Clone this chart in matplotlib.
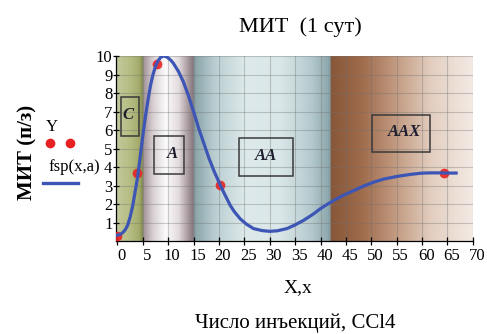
import numpy as np
import matplotlib
matplotlib.use("Agg")
import matplotlib.pyplot as plt
import matplotlib.transforms as mtransforms
from matplotlib.lines import Line2D

plt.rcParams['font.family'] = ['Liberation Serif', 'DejaVu Serif']

# measured points Y
pt_x = [0.0, 3.8, 7.7, 20.2, 64.3]
pt_y = [0.3, 3.7, 9.6, 3.05, 3.7]

# spline fsp(x,a)
fsp_x = [0, 0.5, 1, 1.5, 2, 2.5, 3, 3.5, 4, 4.5, 5, 5.5, 6, 6.5, 7, 7.5, 8,
         8.5, 9, 9.5, 10, 10.5, 11, 12, 13, 14, 15, 16, 17, 18, 19, 20.3, 21,
         22.2, 23, 24.2, 25.5, 26.8, 28.5, 30, 31.5, 33.4, 35, 36.7, 38.5, 40,
         41.5, 42.6, 44.5, 46.6, 48.5, 50.5, 52.5, 55.1, 57.5, 59.7, 61.5,
         63.7, 65, 66.7]
fsp_y = [0.33, 0.36, 0.45, 0.6, 0.85, 1.3, 1.9, 2.7, 3.5, 4.6, 5.7, 6.7, 7.6,
         8.4, 9.0, 9.45, 9.75, 9.93, 10.0, 9.98, 9.9, 9.78, 9.62, 9.18, 8.6,
         7.85, 7.0, 6.1, 5.3, 4.5, 3.8, 3.0, 2.6, 1.94, 1.6, 1.2, 0.9, 0.68,
         0.57, 0.53, 0.56, 0.68, 0.88, 1.13, 1.45, 1.76, 2.02, 2.2, 2.48, 2.74,
         2.98, 3.19, 3.36, 3.5, 3.6, 3.67, 3.69, 3.69, 3.68, 3.68]

# labelled boxes: name, x0, x1, y0, y1, text x, text y
boxes = [("C", 0.7, 4.2, 5.7, 7.8, 2.0, 6.8),
         ("A", 7.3, 13.2, 3.65, 5.7, 10.8, 4.7),
         ("AA", 24.0, 34.5, 3.5, 5.6, 29.3, 4.6),
         ("AAX", 50.1, 61.5, 4.8, 6.8, 56.6, 5.9)]

xticks = list(range(0, 75, 5))
yticks = list(range(1, 11))

# background bands (x positions and colour stops)
bands = [
    [(-0.3, "#c4c99c"), (2.5, "#b6bd82"), (4.3, "#a3aa6c"), (5.0, "#7f874a")],
    [(5.0, "#9f8f94"), (7.0, "#d8d0d2"), (9.5, "#fbfbfb"), (12.0, "#e4dcde"), (15.0, "#83737a")],
    [(15.0, "#86a1a6"), (19.0, "#b9cdd0"), (25.0, "#dde9eb"), (32.0, "#dae7e9"),
     (38.0, "#b6cbcf"), (41.5, "#8ea8ad"), (42.0, "#7a9499")],
    [(42.0, "#87573a"), (48.0, "#9e6b4b"), (55.0, "#c39c83"), (62.0, "#e3cfc1"), (70.0, "#f3ebe5")],
]

fig = plt.figure(figsize=(4.87, 3.34), dpi=100)
ax = fig.add_axes([0.238, 0.278, 0.733, 0.554])
xmin, xmax = -0.3, 70

# gradient image across x
xs = np.linspace(xmin, xmax, 1400)
img = np.ones((1, xs.size, 3))
for band in bands:
    bx = [b[0] for b in band]
    cols = np.array([matplotlib.colors.to_rgb(b[1]) for b in band])
    m = (xs >= bx[0]) & (xs <= bx[-1])
    for k in range(3):
        img[0, m, k] = np.interp(xs[m], bx, cols[:, k])
ax.imshow(img, extent=[xmin, xmax, 0, 10], aspect='auto', zorder=0,
          interpolation='bilinear')

for gx in xticks[1:]:
    ax.axvline(gx, color='#707070', lw=0.8, alpha=0.35, zorder=1)
for gy in yticks:
    ax.axhline(gy, color='#707070', lw=0.8, alpha=0.35, zorder=1)

for name, x0, x1, y0, y1, tx, ty in boxes:
    ax.add_patch(plt.Rectangle((x0, y0), x1 - x0, y1 - y0, fill=False,
                               ec='#3a3a3a', lw=1.1, zorder=3))
    ax.text(tx, ty, name, ha='center', va='center', fontsize=12,
            fontstyle='italic', fontweight='bold', color='#1e1e2e', zorder=4)

ax.plot(fsp_x, fsp_y, color='#3d55b5', lw=2.3, zorder=5, solid_joinstyle='round')
ax.plot(pt_x, pt_y, 'o', color='#e82222', ms=7, mec='none', zorder=4, alpha=0.9)

ax.set_xlim(xmin, xmax)
ax.set_ylim(0, 10)
ax.set_xticks(xticks)
ax.set_yticks(yticks)
ax.tick_params(axis='x', direction='inout', length=6, width=0.9, labelsize=12, pad=2)
ax.tick_params(axis='y', direction='inout', length=5, width=0.9, labelsize=12, pad=0)
offset = mtransforms.ScaledTranslation(4 / 100, 0, fig.dpi_scale_trans)
for lab in ax.get_xticklabels():
    lab.set_transform(lab.get_transform() + offset)
for s in ['top', 'right']:
    ax.spines[s].set_visible(False)
ax.spines['left'].set_linewidth(0.9)
ax.spines['bottom'].set_linewidth(0.9)

fig.text(0.616, 0.918, "МИТ  (1 сут)", ha='center', va='center', fontsize=16)
fig.text(0.057, 0.545, "МИТ (п/з)", ha='center', va='center', rotation=90,
         fontsize=15, fontweight='bold')
fig.text(0.612, 0.14, "X,x", ha='center', va='center', fontsize=14)
fig.text(0.606, 0.033, "Число инъекций, CCl4", ha='center', va='center', fontsize=15)

# legend drawn by hand, left of the axis
fig.text(0.107, 0.62, "Y", ha='center', va='center', fontsize=12)
fig.add_artist(Line2D([0.103, 0.144], [0.572, 0.572], ls='none', marker='o',
                      color='#e82222', ms=7, mec='none'))
fig.text(0.152, 0.50, "fsp(x,a)", ha='center', va='center', fontsize=12)
fig.add_artist(Line2D([0.088, 0.160], [0.452, 0.452], color='#3d55b5', lw=2.4))

fig.savefig("out.png", dpi=100)
